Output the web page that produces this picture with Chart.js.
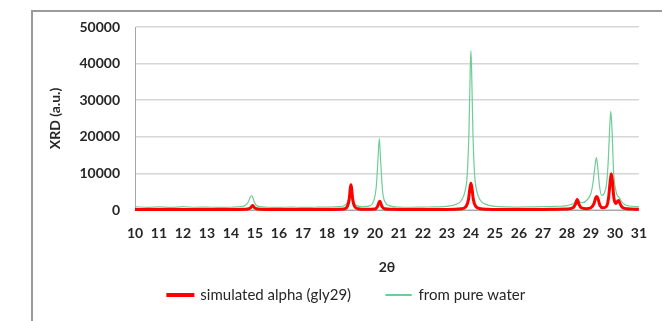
<!DOCTYPE html>
<html>
<head>
<meta charset="utf-8">
<script src="https://cdn.jsdelivr.net/npm/chart.js@4.4.1/dist/chart.umd.min.js"></script>
<style>
  body { margin: 0; background: #fff; }
  #frame { position: absolute; left: 31px; top: 10px; width: 700px; height: 400px; border: 2px solid #9a9a9a; }
  #wrap { position: absolute; left: 0; top: 0; width: 662px; height: 321px; }
</style>
</head>
<body>
<div id="frame"></div>
<div id="wrap"><canvas id="xrdChart" width="662" height="321"></canvas></div>
<script>
// ticks
const xTicks = [10, 11, 12, 13, 14, 15, 16, 17, 18, 19, 20, 21, 22, 23, 24, 25, 26, 27, 28, 29, 30, 31];
const yTicks = [0, 10000, 20000, 30000, 40000, 50000];

// simulated alpha (gly29): [2theta, intensity]
const simulatedAlpha = [
    [10, 150], [11, 120], [12, 150], [13, 130], [14, 150], [14.6, 200],
    [14.75, 350], [14.82, 650], [14.87, 1050], [14.9, 1250], [14.93, 1050], [14.98, 650], [15.05, 350], [15.2, 200],
    [16, 150], [17, 150], [18, 170], [18.7, 300],
    [18.85, 1000], [18.93, 3000], [18.97, 5800], [19.0, 6900], [19.03, 5800], [19.07, 3000], [19.15, 1000], [19.3, 350], [19.6, 200],
    [20.0, 300], [20.1, 900], [20.16, 1900], [20.2, 2400], [20.24, 1900], [20.3, 900], [20.4, 350], [20.7, 200],
    [21, 150], [22, 150], [23, 170], [23.6, 350],
    [23.8, 1000], [23.9, 2900], [23.95, 5600], [24.0, 7300], [24.05, 5600], [24.1, 2900], [24.2, 1000], [24.4, 350], [24.7, 200],
    [25, 150], [26, 150], [27, 170], [28, 250],
    [28.25, 600], [28.35, 1500], [28.43, 2900], [28.5, 1600], [28.6, 600], [28.8, 350],
    [29.0, 600], [29.12, 1600], [29.2, 3300], [29.25, 3700], [29.3, 3000], [29.38, 1200], [29.5, 600],
    [29.65, 1000], [29.74, 3500], [29.8, 7600], [29.85, 9900], [29.9, 7600], [29.96, 3200],
    [30.04, 1800], [30.11, 2400], [30.16, 2600], [30.21, 1800], [30.3, 800], [30.5, 350], [31, 200]
];

// from pure water: [2theta, intensity]
const pureWater = [
    [10, 900], [10.5, 700], [11, 850], [11.5, 700], [12, 900], [12.5, 750], [13, 800], [13.5, 700], [14, 750], [14.4, 900],
    [14.6, 1300], [14.72, 2200], [14.8, 3400], [14.85, 3900], [14.9, 3600], [14.97, 2200], [15.05, 1300], [15.2, 900],
    [15.5, 750], [16, 700], [16.5, 800], [17, 700], [17.5, 750], [18, 800], [18.5, 900],
    [18.75, 1300], [18.88, 2600], [18.95, 4500], [19.0, 5800], [19.05, 4200], [19.12, 2200], [19.25, 1200], [19.5, 900],
    [19.8, 1200], [19.95, 2500], [20.05, 6000], [20.12, 13000], [20.18, 19600], [20.24, 13000], [20.32, 5000], [20.42, 2200], [20.6, 1200],
    [21, 800], [21.5, 750], [22, 800], [22.5, 850], [23, 1000], [23.4, 1600],
    [23.6, 2600], [23.75, 5000], [23.85, 10000], [23.92, 22000], [23.97, 38000], [24.0, 43500], [24.03, 38000], [24.08, 22000], [24.15, 10000], [24.25, 5000], [24.4, 2600], [24.6, 1600],
    [25, 1000], [25.5, 850], [26, 800], [26.5, 850], [27, 900], [27.5, 1000], [28, 1200],
    [28.25, 1700], [28.38, 2400], [28.45, 2700], [28.52, 2200], [28.65, 2000], [28.85, 2800],
    [29.0, 4500], [29.1, 8000], [29.18, 12500], [29.23, 14300], [29.28, 12000], [29.36, 6500], [29.45, 4000],
    [29.55, 4500], [29.65, 7000], [29.72, 13000], [29.78, 22000], [29.83, 27000], [29.88, 22000], [29.95, 10000],
    [30.05, 5000], [30.12, 3800], [30.18, 3400], [30.25, 2600], [30.4, 1500], [30.6, 1100], [31, 900]
];

const fuente = "Lato, 'Open Sans', sans-serif";

// mueve un poco la leyenda a la derecha, como en la figura original
const moverLeyenda = {
    id: 'moverLeyenda',
    afterLayout(chart) {
        chart.legend.left += 5;
        chart.legend.right += 5;
    }
};

const ctx = document.getElementById('xrdChart').getContext('2d');
new Chart(ctx, {
    type: 'line',
    data: {
        datasets: [{
            label: 'simulated alpha (gly29)',
            data: simulatedAlpha.map(p => ({x: p[0], y: p[1]})),
            borderColor: '#ff0000',
            backgroundColor: '#ff0000',
            borderWidth: 3,
            pointRadius: 0,
            cubicInterpolationMode: 'monotone',
            clip: 6
        }, {
            label: 'from pure water',
            data: pureWater.map(p => ({x: p[0], y: p[1]})),
            borderColor: 'rgb(110,205,150)',
            backgroundColor: 'rgb(110,205,150)',
            borderWidth: 1.2,
            pointRadius: 0,
            cubicInterpolationMode: 'monotone',
            clip: 6
        }]
    },
    options: {
        responsive: false,
        animation: false,
        layout: { padding: { left: 40, top: 27, right: 19, bottom: 8.5 } },
        scales: {
            x: {
                type: 'linear',
                min: xTicks[0],
                max: xTicks[xTicks.length - 1],
                afterBuildTicks: s => { s.ticks = xTicks.map(v => ({value: v})); },
                afterFit: s => { s.height = 42.5; },
                grid: { display: false, drawTicks: false },
                border: { display: true, color: '#a6a6a6', width: 1 },
                ticks: { padding: 15, color: '#262626', font: { family: fuente, size: 14, weight: 'bold' } },
                title: {
                    display: true, text: '2θ', color: '#262626',
                    font: { family: fuente, size: 14, weight: 'bold' },
                    padding: { top: 0, bottom: -23 }
                }
            },
            y: {
                min: yTicks[0],
                max: yTicks[yTicks.length - 1],
                afterBuildTicks: s => { s.ticks = yTicks.map(v => ({value: v})); },
                afterFit: s => { s.width = 95; },
                grid: { color: '#d6d6d6', lineWidth: 1.5, drawTicks: false },
                border: { display: true, color: '#a6a6a6', width: 1 },
                ticks: {
                    padding: 15, color: '#262626',
                    font: { family: fuente, size: 14, weight: 'bold' },
                    callback: v => String(v)
                },
                title: {
                    display: true, text: 'XRD (a.u.)', color: '#262626',
                    font: { family: fuente, size: 14, weight: 'bold' },
                    padding: { top: 7, bottom: 0 }
                }
            }
        },
        plugins: {
            legend: {
                position: 'bottom',
                labels: {
                    boxWidth: 25,
                    boxHeight: 1,
                    padding: 35,
                    color: '#262626',
                    font: { family: fuente, size: 15 }
                }
            },
            tooltip: { enabled: false }
        }
    },
    plugins: [moverLeyenda]
});
</script>
</body>
</html>
